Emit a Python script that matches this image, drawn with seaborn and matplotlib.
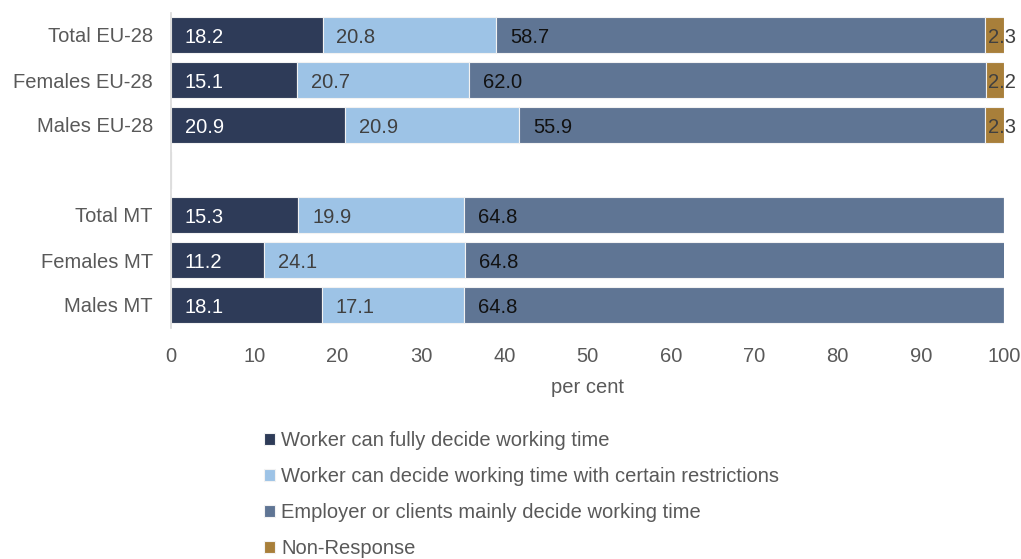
import numpy as np
import pandas as pd
import matplotlib
matplotlib.use("Agg")
import matplotlib.pyplot as plt
import seaborn as sns

# Groups (blank entry leaves a gap between EU-28 and MT blocks)
groups = ["Total EU-28", "Females EU-28", "Males EU-28", "",
          "Total MT", "Females MT", "Males MT"]

series_names = [
    "Worker can fully decide working time",
    "Worker can decide working time with certain restrictions",
    "Employer or clients mainly decide working time",
    "Non-Response",
]

fully_decide = [18.2, 15.1, 20.9, 0, 15.3, 11.2, 18.1]
with_restrictions = [20.8, 20.7, 20.9, 0, 19.9, 24.1, 17.1]
employer_decides = [58.7, 62.0, 55.9, 0, 64.8, 64.8, 64.8]
non_response = [2.3, 2.2, 2.3, 0, 0, 0, 0]

colors = ["#2E3B58", "#9DC3E6", "#5F7594", "#A87F3A"]
label_colors = ["white", "#404040", "#111111", "#404040"]
label_offsets = [10, 10, 10, 2]

sns.set_theme(style="white")
plt.rcParams["font.family"] = ["Liberation Sans", "DejaVu Sans"]

fig = plt.figure(figsize=(10.21, 5.59), dpi=100)
ax = fig.add_axes([171 / 1021, 1 - 327.5 / 559, (1004 - 171) / 1021, (327.5 - 12.5) / 559])

values = [fully_decide, with_restrictions, employer_decides, non_response]
left = np.zeros(len(groups))
for name, vals, col, tcol, off in zip(series_names, values, colors, label_colors, label_offsets):
    df = pd.DataFrame({"group": groups, "value": vals})
    sns.barplot(data=df, x="value", y="group", order=groups, orient="h",
                color=col, left=left.copy(), width=0.8, saturation=1,
                edgecolor="#F2F2F2", linewidth=0.8, label=name, ax=ax,
                errorbar=None)
    for i, v in enumerate(vals):
        if v > 0:
            ax.annotate(f"{v:.1f}", xy=(left[i], i), xytext=(off, -1.8),
                        textcoords="offset points", ha="left", va="center",
                        fontsize=14.5, color=tcol)
    left = left + np.array(vals)

ax.set_xlim(0, 100)
ax.set_ylim(6.5, -0.5)
ax.set_xticks(range(0, 101, 10))
ax.tick_params(axis="both", length=0, labelsize=14.5, labelcolor="#595959")
ax.tick_params(axis="x", pad=14)
ax.tick_params(axis="y", pad=13)
ax.set_xlabel("per cent", fontsize=14.5, color="#595959", labelpad=9)
ax.set_ylabel("")
for side in ["top", "right", "bottom"]:
    ax.spines[side].set_visible(False)
ax.spines["left"].set_color("#D9D9D9")
ax.spines["left"].set_linewidth(1.2)

handles, labels = ax.get_legend_handles_labels()
if ax.legend_:
    ax.legend_.remove()
fig.legend(handles, labels, loc="upper left", bbox_to_anchor=(264 / 1021, 1 - 431 / 559),
           frameon=False, fontsize=14.5, labelcolor="#595959",
           handlelength=0.55, handleheight=0.55, handletextpad=0.3,
           labelspacing=0.85, borderpad=0, borderaxespad=0)

fig.savefig("out.png", dpi=100)
